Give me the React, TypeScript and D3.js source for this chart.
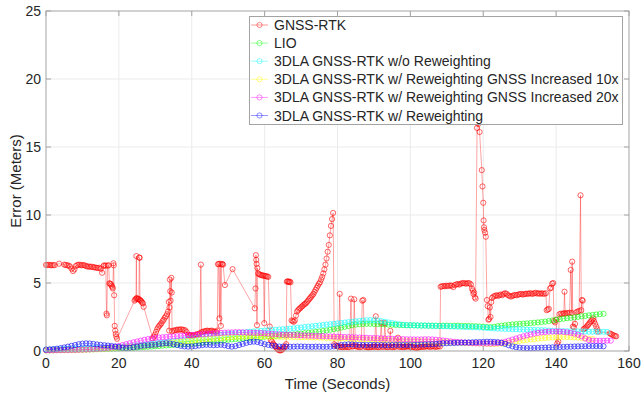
import React from "react";
import * as d3 from "d3";

// Chart frame
const W = 641;
const H = 396;
const X0 = 46;
const X1 = 629;
const Y0 = 351;
const Y1 = 11;

const xTicks = [0, 20, 40, 60, 80, 100, 120, 140, 160];
const yTicks = [0, 5, 10, 15, 20, 25];

// GNSS-RTK error: [time (s), error (m)]
const gnssRtk: [number, number][] = [
  [0, 6.33], [0.4, 6.32], [0.8, 6.34], [1.2, 6.31], [1.6, 6.3], [2.0, 6.32], [2.4, 6.31], [3.6, 6.42],
  [5.0, 6.35], [5.4, 6.33], [5.8, 6.3], [6.2, 6.28], [6.6, 6.22], [7.0, 6.05], [7.4, 5.88], [7.8, 6.0],
  [8.2, 6.25], [8.6, 6.32], [9.0, 6.35], [9.4, 6.33], [9.8, 6.3], [10.2, 6.32], [10.6, 6.3], [11.0, 6.25],
  [11.4, 6.2], [11.8, 6.22], [12.2, 6.18], [12.6, 6.2], [13.0, 6.16], [13.4, 6.15], [13.8, 6.12], [14.2, 6.1],
  [14.6, 6.12], [15.0, 6.05], [15.4, 5.75], [15.8, 6.25], [16.0, 6.3], [16.4, 6.28], [16.6, 2.75], [16.7, 2.62],
  [16.9, 6.28], [17.2, 6.3], [17.4, 4.98], [17.6, 4.95], [17.8, 4.9], [18.0, 4.8], [18.2, 4.7], [18.35, 4.6],
  [18.5, 6.45], [18.6, 6.3], [18.7, 4.1], [18.85, 1.85], [19.0, 1.5], [19.15, 1.25], [19.3, 1.05], [19.5, 0.9],
  [24.3, 3.7], [24.5, 3.78], [24.7, 3.85], [24.8, 6.98], [24.9, 3.9], [25.1, 3.85], [25.3, 3.8], [25.5, 3.82],
  [25.6, 6.88], [25.7, 6.85], [25.8, 3.75], [26.0, 3.7], [26.2, 3.65], [26.4, 3.55], [26.6, 3.5], [26.8, 3.25],
  [29.3, 0.93], [29.6, 1.05], [29.9, 1.2], [30.2, 1.4], [30.5, 1.6], [30.8, 1.75], [31.1, 1.85], [31.4, 1.95],
  [31.7, 2.05], [32.0, 2.2], [32.3, 2.3], [32.6, 2.45], [32.9, 2.55], [33.2, 2.7], [33.5, 2.9], [33.7, 3.6],
  [33.8, 1.5], [33.9, 3.2], [34.0, 5.25], [34.1, 4.4], [34.2, 3.7], [34.4, 5.38], [34.5, 4.3], [34.6, 1.45],
  [35.0, 1.5], [35.4, 1.52], [35.8, 1.55], [36.2, 1.58], [36.6, 1.55], [37.0, 1.6], [37.4, 1.57], [37.8, 1.55],
  [38.2, 1.52], [38.6, 1.4], [39.0, 1.2], [39.4, 1.15], [39.8, 1.18], [40.2, 1.12], [40.6, 1.15], [41.0, 1.2],
  [41.4, 1.22], [41.8, 1.25], [42.2, 1.3], [42.5, 6.35], [42.7, 1.38], [43.1, 1.42], [43.5, 1.45], [43.9, 1.48],
  [44.3, 1.5], [44.7, 1.46], [45.1, 1.48], [45.5, 1.5], [45.9, 1.45], [46.3, 1.42], [46.7, 1.4], [47.0, 1.5],
  [47.2, 6.38], [47.4, 6.4], [47.6, 2.4], [47.8, 6.42], [48.0, 1.85], [48.2, 6.38], [48.4, 6.4], [48.6, 6.35],
  [49.1, 4.85], [51.2, 6.02], [57.3, 3.14], [57.5, 4.6], [57.6, 7.05], [57.7, 6.7], [57.8, 6.4], [57.9, 1.9],
  [58.0, 6.1], [58.2, 5.7], [58.5, 5.65], [58.8, 5.6], [59.1, 5.58], [59.4, 5.55], [59.7, 5.55], [59.9, 2.05],
  [60.1, 5.52], [60.4, 5.5], [60.7, 5.48], [61.0, 5.45], [61.4, 1.8], [61.7, 0.8], [62.0, 0.7], [62.3, 0.55],
  [62.6, 0.45], [62.9, 0.35], [63.2, 0.25], [63.5, 0.15], [63.8, 0.08], [64.1, 0.05], [64.4, 0.04], [64.7, 0.08],
  [65.0, 0.15], [65.3, 0.25], [65.6, 0.35], [65.9, 0.5], [66.1, 5.1], [66.3, 5.12], [66.5, 5.1], [66.7, 5.08],
  [66.9, 5.1], [67.1, 5.05], [67.4, 2.25], [67.7, 2.2], [68.0, 2.15], [68.3, 2.25], [68.6, 2.6], [68.9, 2.9],
  [69.2, 3.0], [69.5, 3.1], [69.8, 3.15], [70.1, 3.25], [70.4, 3.3], [70.7, 3.4], [71.0, 3.45], [71.3, 3.5],
  [71.6, 3.6], [71.9, 3.7], [72.2, 3.8], [72.5, 3.9], [72.8, 4.0], [73.1, 4.1], [73.4, 4.2], [73.7, 4.35],
  [74.0, 4.5], [74.3, 4.65], [74.6, 4.8], [74.9, 4.95], [75.2, 5.05], [75.5, 5.25], [75.8, 5.45], [76.1, 5.7],
  [76.4, 6.0], [76.7, 6.35], [77.0, 6.8], [77.3, 7.3], [77.6, 7.8], [77.9, 8.5], [78.2, 9.2], [78.5, 9.7],
  [78.8, 10.15], [79.1, 0.5], [79.5, 0.4], [79.9, 0.35], [80.3, 0.3], [80.6, 4.2], [80.9, 0.3], [81.3, 0.28],
  [81.7, 0.3], [82.1, 0.32], [82.5, 0.3], [82.9, 0.28], [83.3, 0.3], [83.7, 3.85], [84.0, 0.32], [84.3, 0.35],
  [84.6, 3.8], [84.9, 0.35], [85.3, 0.33], [85.7, 0.3], [86.1, 0.28], [86.5, 0.3], [86.8, 3.7], [87.1, 3.75],
  [87.4, 0.32], [87.8, 0.3], [88.2, 0.28], [88.6, 0.26], [89.0, 0.28], [89.4, 0.3], [89.8, 0.32], [90.2, 0.3],
  [90.5, 2.55], [90.8, 0.3], [91.2, 0.28], [91.6, 0.3], [92.0, 2.08], [92.3, 0.3], [92.7, 0.32], [93.0, 2.05],
  [93.3, 0.3], [93.7, 0.28], [94.1, 0.3], [94.5, 1.48], [94.8, 0.3], [95.2, 0.28], [95.6, 0.3], [96.0, 0.32],
  [96.6, 0.98], [96.9, 0.3], [97.3, 0.32], [97.7, 0.3], [98.1, 0.28], [98.5, 0.3], [98.9, 0.32], [99.3, 0.34],
  [99.7, 0.32], [100.1, 0.3], [100.5, 0.28], [100.9, 0.3], [101.3, 0.25], [101.7, 0.22], [102.1, 0.25], [102.5, 0.28],
  [102.9, 0.3], [103.3, 0.32], [103.7, 0.3], [104.1, 0.32], [104.5, 0.35], [104.9, 0.33], [105.3, 0.3], [105.7, 0.32],
  [106.1, 0.35], [106.5, 0.33], [106.9, 0.3], [107.3, 0.32], [107.7, 0.35], [108.1, 0.33], [108.3, 4.72], [108.6, 4.75],
  [109.0, 4.78], [109.4, 4.76], [109.8, 4.8], [110.2, 4.78], [110.6, 4.8], [111.0, 4.82], [111.4, 4.8], [111.8, 4.7],
  [112.2, 4.85], [112.6, 4.9], [113.0, 4.92], [113.4, 4.88], [113.8, 4.95], [114.2, 4.98], [114.6, 5.0], [115.0, 4.97],
  [115.4, 4.95], [115.8, 5.0], [116.2, 4.98], [116.6, 4.9], [116.9, 4.6], [117.1, 4.45], [117.3, 4.2], [117.5, 4.3],
  [117.7, 3.95], [117.9, 3.85], [118.3, 16.4], [118.6, 16.7], [119.0, 16.1], [119.6, 13.3], [119.8, 12.1], [120.0, 10.9],
  [120.1, 9.6], [120.2, 9.1], [120.3, 8.9], [120.5, 8.7], [120.7, 8.4], [121.0, 3.75], [121.2, 3.3], [121.4, 2.3],
  [121.6, 2.35], [121.8, 3.2], [122.0, 2.5], [122.2, 3.6], [122.4, 3.9], [122.8, 4.0], [123.2, 4.05], [123.6, 4.1],
  [124.0, 4.05], [124.4, 4.1], [124.8, 4.15], [125.2, 4.1], [125.6, 4.2], [126.0, 4.25], [126.4, 4.2], [126.8, 4.1],
  [127.2, 4.05], [127.6, 4.0], [128.0, 4.05], [128.4, 4.1], [128.8, 4.12], [129.2, 4.1], [129.6, 4.15], [130.0, 4.18],
  [130.4, 4.2], [130.8, 4.15], [131.2, 4.18], [131.6, 4.2], [132.0, 4.22], [132.4, 4.2], [132.8, 4.25], [133.2, 4.22],
  [133.6, 4.2], [134.0, 4.25], [134.4, 4.28], [134.8, 4.22], [135.2, 4.25], [135.6, 4.2], [136.0, 4.25], [136.4, 4.22],
  [136.8, 4.2], [137.2, 4.25], [137.4, 3.0], [137.7, 3.05], [138.0, 3.1], [138.3, 4.6], [138.6, 4.65], [138.9, 4.95],
  [139.2, 5.0], [139.4, 2.2], [139.7, 2.1], [140.0, 2.3], [140.3, 0.55], [140.6, 0.7], [140.9, 2.7], [141.3, 2.75],
  [141.7, 2.72], [142.1, 2.78], [142.3, 4.36], [142.5, 2.75], [142.9, 2.8], [143.3, 2.78], [143.7, 2.82], [144.0, 5.96],
  [144.3, 2.8], [144.4, 6.57], [144.6, 1.8], [144.9, 1.75], [145.2, 2.0], [145.5, 2.85], [145.9, 2.9], [146.3, 2.95],
  [146.7, 11.45], [146.9, 3.0], [147.1, 3.75], [147.3, 3.7], [147.5, 1.6], [147.8, 1.65], [148.1, 1.7], [148.4, 1.8],
  [148.7, 1.9], [149.0, 2.0], [149.3, 2.1], [149.6, 2.2], [149.9, 2.3], [150.2, 2.4], [150.4, 2.2], [150.7, 2.0],
  [151.0, 1.8], [151.3, 1.6], [151.5, 1.42], [154.7, 1.3], [155.0, 1.25], [155.4, 1.2], [155.8, 1.15], [156.2, 1.1],
  [156.5, 1.08],
];

// The remaining estimators are logged once per second, starting at t = 0
const lio: number[] = [
  0.05, 0.05, 0.06, 0.06, 0.07, 0.07, 0.08, 0.08, 0.09, 0.10,
  0.10, 0.11, 0.12, 0.12, 0.13, 0.14, 0.15, 0.16, 0.17, 0.18,
  0.19, 0.20, 0.21, 0.22, 0.23, 0.25, 0.27, 0.29, 0.31, 0.33,
  0.35, 0.37, 0.39, 0.41, 0.43, 0.45, 0.47, 0.49, 0.51, 0.53,
  0.55, 0.57, 0.60, 0.62, 0.65, 0.68, 0.71, 0.74, 0.77, 0.80,
  0.83, 0.86, 0.88, 0.90, 0.92, 0.94, 0.96, 0.98, 1.00, 1.02,
  1.05, 1.08, 1.10, 1.12, 1.14, 1.16, 1.18, 1.20, 1.22, 1.25,
  1.28, 1.31, 1.34, 1.37, 1.40, 1.43, 1.47, 1.51, 1.56, 1.61,
  1.66, 1.72, 1.78, 1.84, 1.90, 1.94, 1.97, 1.99, 2.00, 2.00,
  1.99, 1.98, 1.97, 1.96, 1.94, 1.93, 1.92, 1.91, 1.90, 1.89,
  1.89, 1.88, 1.88, 1.87, 1.87, 1.86, 1.86, 1.86, 1.85, 1.86,
  1.86, 1.85, 1.85, 1.86, 1.85, 1.84, 1.84, 1.83, 1.82, 1.80,
  1.78, 1.76, 1.75, 1.78, 1.82, 1.86, 1.89, 1.92, 1.95, 1.97,
  1.99, 2.01, 2.03, 2.05, 2.08, 2.10, 2.13, 2.16, 2.20, 2.25,
  2.30, 2.34, 2.38, 2.41, 2.44, 2.47, 2.51, 2.55, 2.58, 2.62,
  2.65, 2.68, 2.71, 2.74,
];

const noReweight: number[] = [
  0.10, 0.10, 0.11, 0.11, 0.12, 0.13, 0.13, 0.14, 0.15, 0.16,
  0.17, 0.18, 0.19, 0.20, 0.21, 0.22, 0.23, 0.25, 0.26, 0.28,
  0.30, 0.32, 0.34, 0.36, 0.38, 0.41, 0.44, 0.47, 0.50, 0.53,
  0.56, 0.59, 0.62, 0.65, 0.68, 0.72, 0.76, 0.80, 0.84, 0.88,
  0.92, 0.96, 1.00, 1.03, 1.06, 1.09, 1.12, 1.15, 1.18, 1.21,
  1.24, 1.27, 1.30, 1.33, 1.36, 1.39, 1.42, 1.44, 1.46, 1.48,
  1.50, 1.52, 1.54, 1.56, 1.58, 1.60, 1.62, 1.64, 1.67, 1.70,
  1.73, 1.76, 1.79, 1.82, 1.85, 1.88, 1.91, 1.94, 1.97, 2.00,
  2.03, 2.06, 2.09, 2.12, 2.15, 2.18, 2.21, 2.24, 2.26, 2.27,
  2.26, 2.24, 2.20, 2.15, 2.10, 2.05, 2.00, 1.96, 1.93, 1.91,
  1.90, 1.89, 1.88, 1.87, 1.87, 1.86, 1.85, 1.84, 1.83, 1.82,
  1.82, 1.81, 1.80, 1.79, 1.78, 1.77, 1.76, 1.75, 1.74, 1.73,
  1.72, 1.70, 1.68, 1.66, 1.65, 1.64, 1.63, 1.62, 1.61, 1.60,
  1.59, 1.58, 1.57, 1.56, 1.55, 1.54, 1.53, 1.52, 1.50, 1.48,
  1.47, 1.46, 1.46, 1.45, 1.45, 1.44, 1.44, 1.43, 1.43, 1.42,
  1.42, 1.42, 1.41, 1.41, 1.40,
];

const reweight10x: number[] = [
  0.04, 0.04, 0.05, 0.05, 0.06, 0.06, 0.07, 0.07, 0.08, 0.08,
  0.09, 0.10, 0.11, 0.12, 0.13, 0.14, 0.16, 0.18, 0.20, 0.22,
  0.24, 0.26, 0.28, 0.30, 0.32, 0.34, 0.36, 0.38, 0.41, 0.44,
  0.47, 0.50, 0.53, 0.56, 0.59, 0.62, 0.65, 0.68, 0.71, 0.74,
  0.77, 0.80, 0.83, 0.86, 0.88, 0.90, 0.92, 0.94, 0.96, 0.98,
  1.00, 1.02, 1.04, 1.05, 1.06, 1.07, 1.08, 1.08, 1.08, 1.07,
  1.07, 1.06, 1.06, 1.05, 1.05, 1.04, 1.04, 1.03, 1.03, 1.02,
  1.02, 1.01, 1.01, 1.00, 1.00, 0.99, 0.98, 0.97, 0.96, 0.95,
  0.94, 0.93, 0.92, 0.91, 0.90, 0.89, 0.88, 0.87, 0.86, 0.85,
  0.84, 0.83, 0.82, 0.81, 0.80, 0.79, 0.78, 0.77, 0.76, 0.75,
  0.74, 0.73, 0.72, 0.71, 0.70, 0.69, 0.68, 0.67, 0.66, 0.65,
  0.64, 0.63, 0.62, 0.61, 0.60, 0.59, 0.58, 0.57, 0.56, 0.55,
  0.54, 0.53, 0.52, 0.52, 0.53, 0.55, 0.58, 0.62, 0.66, 0.70,
  0.74, 0.78, 0.82, 0.85, 0.88, 0.91, 0.94, 0.96, 0.98, 1.00,
  1.01, 1.02, 1.03, 1.03, 1.02, 1.01, 0.99, 0.96, 0.93, 0.90,
  0.88,
];

const reweight20x: number[] = [
  0.05, 0.05, 0.05, 0.06, 0.06, 0.07, 0.07, 0.08, 0.08, 0.09,
  0.10, 0.11, 0.12, 0.14, 0.16, 0.18, 0.21, 0.24, 0.28, 0.32,
  0.37, 0.43, 0.50, 0.57, 0.64, 0.70, 0.76, 0.82, 0.87, 0.92,
  0.96, 0.99, 1.01, 1.03, 1.05, 1.07, 1.09, 1.11, 1.13, 1.15,
  1.17, 1.19, 1.21, 1.23, 1.25, 1.27, 1.29, 1.31, 1.33, 1.35,
  1.36, 1.37, 1.38, 1.38, 1.37, 1.36, 1.35, 1.34, 1.33, 1.32,
  1.30, 1.28, 1.26, 1.24, 1.22, 1.20, 1.19, 1.18, 1.17, 1.16,
  1.15, 1.14, 1.13, 1.12, 1.11, 1.10, 1.09, 1.08, 1.07, 1.06,
  1.05, 1.04, 1.03, 1.02, 1.01, 1.00, 0.99, 0.98, 0.97, 0.96,
  0.95, 0.94, 0.93, 0.92, 0.91, 0.90, 0.89, 0.88, 0.87, 0.86,
  0.86, 0.85, 0.85, 0.85, 0.86, 0.86, 0.85, 0.83, 0.80, 0.77,
  0.74, 0.71, 0.68, 0.66, 0.64, 0.62, 0.60, 0.58, 0.57, 0.56,
  0.55, 0.55, 0.55, 0.56, 0.58, 0.62, 0.68, 0.76, 0.84, 0.92,
  1.00, 1.08, 1.15, 1.22, 1.28, 1.33, 1.37, 1.40, 1.42, 1.43,
  1.43, 1.42, 1.40, 1.37, 1.33, 1.28, 1.20, 1.08, 0.92, 0.80,
  0.76, 0.75, 0.75, 0.75, 0.76, 0.76,
];

const reweight: number[] = [
  0.10, 0.12, 0.14, 0.17, 0.21, 0.26, 0.32, 0.38, 0.44, 0.50,
  0.54, 0.56, 0.55, 0.52, 0.48, 0.45, 0.42, 0.40, 0.37, 0.33,
  0.28, 0.24, 0.22, 0.24, 0.28, 0.32, 0.36, 0.40, 0.42, 0.44,
  0.46, 0.50, 0.54, 0.57, 0.55, 0.50, 0.44, 0.38, 0.34, 0.32,
  0.33, 0.36, 0.40, 0.44, 0.46, 0.45, 0.43, 0.44, 0.46, 0.42,
  0.36, 0.32, 0.36, 0.44, 0.52, 0.60, 0.66, 0.69, 0.66, 0.58,
  0.50, 0.45, 0.40, 0.36, 0.33, 0.32, 0.31, 0.31, 0.32, 0.33,
  0.33, 0.32, 0.31, 0.31, 0.32, 0.32, 0.31, 0.31, 0.32, 0.34,
  0.38, 0.43, 0.47, 0.49, 0.48, 0.46, 0.45, 0.44, 0.44, 0.45,
  0.45, 0.44, 0.44, 0.43, 0.43, 0.44, 0.45, 0.45, 0.44, 0.44,
  0.44, 0.45, 0.46, 0.47, 0.48, 0.49, 0.50, 0.52, 0.54, 0.56,
  0.57, 0.58, 0.59, 0.60, 0.61, 0.62, 0.63, 0.64, 0.65, 0.66,
  0.67, 0.68, 0.68, 0.67, 0.65, 0.60, 0.52, 0.42, 0.34, 0.28,
  0.24, 0.22, 0.21, 0.21, 0.22, 0.23, 0.24, 0.25, 0.26, 0.27,
  0.28, 0.29, 0.30, 0.31, 0.32, 0.33, 0.34, 0.35, 0.35, 0.36,
  0.36, 0.36, 0.36, 0.35,
];

const seriesNames = [
  "GNSS-RTK",
  "LIO",
  "3DLA GNSS-RTK w/o Reweighting",
  "3DLA GNSS-RTK w/ Reweighting GNSS Increased 10x",
  "3DLA GNSS-RTK w/ Reweighting GNSS Increased 20x",
  "3DLA GNSS-RTK w/ Reweighting",
];
const seriesColors = ["#ff0000", "#00ff00", "#00ffff", "#ffff00", "#ff00ff", "#0000ff"];

const perSecond = (vals: number[]): [number, number][] => vals.map((v, i) => [i, v]);

const seriesData: [number, number][][] = [
  gnssRtk,
  perSecond(lio),
  perSecond(noReweight),
  perSecond(reweight10x),
  perSecond(reweight20x),
  perSecond(reweight),
];

const FONT = "'Liberation Sans', Arial, Helvetica, sans-serif";
const TEXT = "#262626";
const AXIS = "#a3a3a3";
const GRID = "#ebebeb";

export default function App() {
  const x = d3.scaleLinear().domain([0, 160]).range([X0, X1]);
  const y = d3.scaleLinear().domain([0, 25]).range([Y0, Y1]);
  const line = d3
    .line<[number, number]>()
    .x((d) => x(d[0]))
    .y((d) => y(d[1]));

  const tick = 5;
  const legX = 249.5;
  const legY = 16.5;
  const legW = 373;
  const legH = 108;
  const rowH = 18.1;

  return (
    <svg
      width={W}
      height={H}
      viewBox={`0 0 ${W} ${H}`}
      style={{ position: "absolute", left: 0, top: 0, background: "#fff" }}
      fontFamily={FONT}
    >
      <rect x={0} y={0} width={W} height={H} fill="#fff" />
      {/* grid */}
      <g stroke={GRID} strokeWidth={1}>
        {xTicks.slice(1, -1).map((t) => (
          <line key={`gx${t}`} x1={x(t)} x2={x(t)} y1={Y0} y2={Y1} />
        ))}
        {yTicks.slice(1, -1).map((t) => (
          <line key={`gy${t}`} x1={X0} x2={X1} y1={y(t)} y2={y(t)} />
        ))}
      </g>

      {/* data */}
      {seriesData.map((data, si) => (
        <g key={si}>
          <path
            d={line(data) ?? ""}
            fill="none"
            stroke={seriesColors[si]}
            strokeWidth={0.9}
            strokeOpacity={0.4}
          />
          {data.map((d, i) => (
            <circle
              key={i}
              cx={x(d[0])}
              cy={y(d[1])}
              r={2.6}
              fill="none"
              stroke={seriesColors[si]}
              strokeWidth={1}
              strokeOpacity={0.6}
            />
          ))}
        </g>
      ))}

      {/* axes box and ticks */}
      <rect x={X0} y={Y1} width={X1 - X0} height={Y0 - Y1} fill="none" stroke={AXIS} strokeWidth={1} />
      <g stroke={AXIS} strokeWidth={1}>
        {xTicks.map((t) => (
          <g key={`tx${t}`}>
            <line x1={x(t)} x2={x(t)} y1={Y0} y2={Y0 - tick} />
            <line x1={x(t)} x2={x(t)} y1={Y1} y2={Y1 + tick} />
          </g>
        ))}
        {yTicks.map((t) => (
          <g key={`ty${t}`}>
            <line x1={X0} x2={X0 + tick} y1={y(t)} y2={y(t)} />
            <line x1={X1} x2={X1 - tick} y1={y(t)} y2={y(t)} />
          </g>
        ))}
      </g>
      <g fill={TEXT} fontSize={14}>
        {xTicks.map((t) => (
          <text key={`lx${t}`} x={x(t)} y={Y0 + 17} textAnchor="middle">
            {t}
          </text>
        ))}
        {yTicks.map((t) => (
          <text key={`ly${t}`} x={X0 - 5} y={y(t) + 5} textAnchor="end">
            {t}
          </text>
        ))}
      </g>
      <text x={(X0 + X1) / 2} y={389} textAnchor="middle" fontSize={15} fill={TEXT}>
        Time (Seconds)
      </text>
      <text
        transform={`translate(21,${(Y0 + Y1) / 2}) rotate(-90)`}
        textAnchor="middle"
        fontSize={15}
        fill={TEXT}
      >
        Error (Meters)
      </text>

      {/* legend */}
      <rect x={legX} y={legY} width={legW} height={legH} fill="#fff" stroke={AXIS} strokeWidth={1} />
      {seriesNames.map((name, i) => {
        const cy = 25 + i * rowH;
        return (
          <g key={name}>
            <line
              x1={251}
              x2={268}
              y1={cy}
              y2={cy}
              stroke={seriesColors[i]}
              strokeWidth={0.9}
              strokeOpacity={0.45}
            />
            <circle
              cx={259.5}
              cy={cy}
              r={2.6}
              fill="none"
              stroke={seriesColors[i]}
              strokeWidth={0.9}
              strokeOpacity={0.5}
            />
            <text x={274} y={cy + 5} fontSize={14} fill={TEXT}>
              {name}
            </text>
          </g>
        );
      })}
    </svg>
  );
}
